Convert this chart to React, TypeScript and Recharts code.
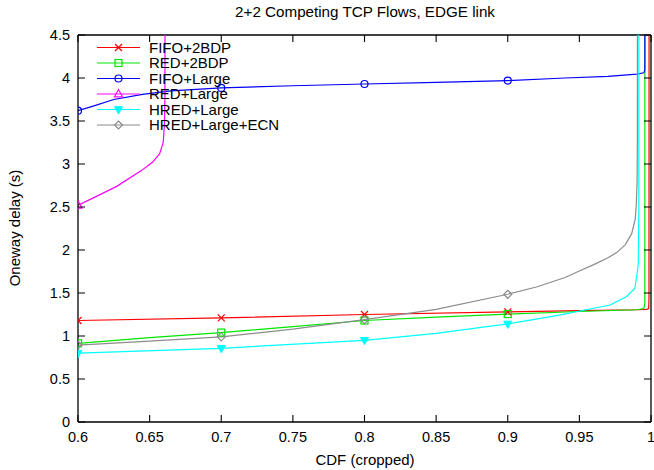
import React from 'react';
import { LineChart, Line, XAxis, YAxis, Legend, ReferenceLine } from 'recharts';

const FONT = '"Liberation Sans", Arial, Helvetica, sans-serif';

const titleText = '2+2 Competing TCP Flows, EDGE link';
const xLabel = 'CDF (cropped)';
const yLabel = 'Oneway delay (s)';

const xTicks = [0.6, 0.65, 0.7, 0.75, 0.8, 0.85, 0.9, 0.95, 1];
const yTicks = [0, 0.5, 1, 1.5, 2, 2.5, 3, 3.5, 4, 4.5];
const xDomain = [0.6, 1];
const yDomain = [0, 4.5];
const markAt = [0.6, 0.7, 0.8, 0.9, 1];

const seriesNames = ['FIFO+2BDP', 'RED+2BDP', 'FIFO+Large', 'RED+Large', 'HRED+Large', 'HRED+Large+ECN'];

const fifo2bdpX = [0.6, 0.7, 0.8, 0.9, 0.95, 0.99, 0.997, 0.9984, 0.9986, 0.9987];
const fifo2bdpY = [1.18, 1.21, 1.25, 1.28, 1.295, 1.305, 1.31, 1.32, 1.45, 8];
const red2bdpX = [0.6, 0.65, 0.7, 0.75, 0.8, 0.85, 0.9, 0.95, 0.99, 0.995, 0.9957, 0.9958];
const red2bdpY = [0.915, 0.98, 1.04, 1.11, 1.18, 1.22, 1.255, 1.285, 1.305, 1.32, 1.38, 8];
const fifoLargeX = [0.6, 0.61, 0.625, 0.645, 0.665, 0.7, 0.75, 0.8, 0.85, 0.9, 0.94, 0.97, 0.99, 0.995, 0.9957, 0.9958];
const fifoLargeY = [3.62, 3.67, 3.75, 3.81, 3.85, 3.885, 3.91, 3.93, 3.95, 3.97, 4.0, 4.02, 4.045, 4.06, 4.09, 8];
const redLargeX = [0.6, 0.61, 0.627, 0.644, 0.652, 0.657, 0.6595, 0.6603, 0.6607, 0.661];
const redLargeY = [2.52, 2.6, 2.74, 2.92, 3.02, 3.12, 3.25, 3.45, 3.8, 8];
const hredLargeX = [0.6, 0.7, 0.8, 0.85, 0.9, 0.935, 0.9714, 0.983, 0.9888, 0.9911, 0.9915, 0.9916];
const hredLargeY = [0.8, 0.857, 0.95, 1.03, 1.14, 1.24, 1.36, 1.46, 1.555, 1.83, 2.5, 8];
const hredEcnX = [0.6, 0.65, 0.7, 0.75, 0.8, 0.85, 0.9, 0.92, 0.94, 0.95, 0.96, 0.97, 0.976, 0.982, 0.9865, 0.989, 0.9898, 0.9903, 0.9905, 0.9906];
const hredEcnY = [0.895, 0.94, 0.99, 1.08, 1.19, 1.31, 1.485, 1.57, 1.68, 1.755, 1.83, 1.91, 1.97, 2.06, 2.19, 2.36, 2.55, 2.8, 3.3, 8];

const zip = (xs: number[], ys: number[]) => xs.map((x, i) => ({ x, y: ys[i] }));

const series = [
  { name: seriesNames[0], color: '#ff0000', shape: 'cross', data: zip(fifo2bdpX, fifo2bdpY) },
  { name: seriesNames[1], color: '#00e600', shape: 'square', data: zip(red2bdpX, red2bdpY) },
  { name: seriesNames[2], color: '#0000ff', shape: 'circle', data: zip(fifoLargeX, fifoLargeY) },
  { name: seriesNames[3], color: '#ff00ff', shape: 'triUp', data: zip(redLargeX, redLargeY) },
  { name: seriesNames[4], color: '#00ffff', shape: 'triDown', data: zip(hredLargeX, hredLargeY) },
  { name: seriesNames[5], color: '#8c8c8c', shape: 'diamond', data: zip(hredEcnX, hredEcnY) },
];

const W = 654;
const H = 470;
const PLOT_TOP = 35;
const PLOT_LEFT = 78;
const PLOT_RIGHT = 651;
const PLOT_BOTTOM = 422;
const TICK_LEN = 7;
const LABEL_SIZE = 14.5;

const Marker = ({ shape, color, x, y }: { shape: string; color: string; x: number; y: number }) => {
  const s = 3.5;
  switch (shape) {
    case 'cross':
      return (
        <g stroke={color} strokeWidth={1.2}>
          <line x1={x - s} y1={y - s} x2={x + s} y2={y + s} />
          <line x1={x - s} y1={y + s} x2={x + s} y2={y - s} />
        </g>
      );
    case 'square':
      return <rect x={x - s} y={y - s} width={2 * s} height={2 * s} fill="none" stroke={color} strokeWidth={1.2} />;
    case 'circle':
      return <circle cx={x} cy={y} r={s} fill="none" stroke={color} strokeWidth={1.2} />;
    case 'triUp':
      return <polygon points={`${x},${y - 4.5} ${x - 4},${y + 2.8} ${x + 4},${y + 2.8}`} fill="none" stroke={color} strokeWidth={1.2} />;
    case 'triDown':
      return <polygon points={`${x},${y + 4.5} ${x - 4},${y - 2.8} ${x + 4},${y - 2.8}`} fill={color} stroke={color} strokeWidth={1} />;
    case 'diamond':
    default:
      return <polygon points={`${x},${y - 4} ${x + 4},${y} ${x},${y + 4} ${x - 4},${y}`} fill="none" stroke={color} strokeWidth={1.2} />;
  }
};

const makeDot = (shape: string, color: string) => (props: any) => {
  const { cx, cy, payload, index } = props;
  const isMark = markAt.some((m) => Math.abs(m - payload.x) < 1e-9) && payload.y <= 4.5;
  if (!isMark) return <g key={`d${index}`} />;
  return (
    <g key={`d${index}`}>
      <Marker shape={shape} color={color} x={cx} y={cy} />
    </g>
  );
};

const fmt = (v: number) => String(v);

const BottomTick = (props: any) => {
  const { x, payload } = props;
  return (
    <g>
      <path d={`M${x},${PLOT_BOTTOM}V${PLOT_BOTTOM - TICK_LEN}M${x},${PLOT_TOP}V${PLOT_TOP + TICK_LEN}`} stroke="#000" strokeWidth={1.1} fill="none" />
      <text x={x} y={PLOT_BOTTOM + 20} textAnchor="middle" fontFamily={FONT} fontSize={LABEL_SIZE} fill="#000">{fmt(payload.value)}</text>
    </g>
  );
};
const LeftTick = (props: any) => {
  const { y, payload } = props;
  return (
    <g>
      <path d={`M${PLOT_LEFT},${y}H${PLOT_LEFT + TICK_LEN}M${PLOT_RIGHT},${y}H${PLOT_RIGHT - TICK_LEN}`} stroke="#000" strokeWidth={1.1} fill="none" />
      <text x={PLOT_LEFT - 8} y={y + 5} textAnchor="end" fontFamily={FONT} fontSize={LABEL_SIZE} fill="#000">{fmt(payload.value)}</text>
    </g>
  );
};

const LegendContent = () => (
  <svg width={W} height={H} style={{ position: 'absolute', left: 0, top: 0 }}>
    <text x={365} y={17} textAnchor="middle" fontFamily={FONT} fontSize={15.2} fill="#000">{titleText}</text>
    <text x={365} y={465} textAnchor="middle" fontFamily={FONT} fontSize={15} fill="#000">{xLabel}</text>
    <text x={0} y={0} transform="translate(20,228) rotate(-90)" textAnchor="middle" fontFamily={FONT} fontSize={15} fill="#000">{yLabel}</text>
    {series.map((s, i) => {
      const cy = 47.5 + i * 15.5;
      return (
        <g key={s.name}>
          <line x1={97} y1={cy} x2={140} y2={cy} stroke={s.color} strokeWidth={1.2} />
          <Marker shape={s.shape} color={s.color} x={118.5} y={cy} />
          <text x={149} y={cy + 5.3} fontFamily={FONT} fontSize={15} fill="#000">{s.name}</text>
        </g>
      );
    })}
  </svg>
);

export default function App() {
  const axisLine = { stroke: '#000', strokeWidth: 1.3 };
  return (
    <div style={{ position: 'absolute', left: 0, top: 0, width: W, height: H, background: '#fff' }}>
      <LineChart width={W} height={H} margin={{ top: PLOT_TOP, right: W - PLOT_RIGHT, bottom: 0, left: 0 }}>
        <XAxis
          xAxisId="b"
          type="number"
          dataKey="x"
          domain={xDomain}
          ticks={xTicks}
          allowDataOverflow
          height={H - PLOT_BOTTOM}
          tickSize={0}
          tickMargin={0}
          tick={BottomTick}
          tickLine={false}
          axisLine={axisLine}
          interval={0}
        />
        <YAxis
          yAxisId="l"
          type="number"
          domain={yDomain}
          ticks={yTicks}
          allowDataOverflow
          width={PLOT_LEFT}
          tickSize={0}
          tickMargin={0}
          tick={LeftTick}
          tickLine={false}
          axisLine={axisLine}
          interval={0}
        />
        <ReferenceLine xAxisId="b" yAxisId="l" y={yDomain[1]} stroke="#000" strokeWidth={1.3} ifOverflow="visible" />
        <ReferenceLine xAxisId="b" yAxisId="l" x={xDomain[1]} stroke="#000" strokeWidth={1.3} ifOverflow="visible" />
        {series.map((s) => (
          <Line
            key={s.name}
            xAxisId="b"
            yAxisId="l"
            data={s.data}
            dataKey="y"
            name={s.name}
            type="linear"
            stroke={s.color}
            strokeWidth={1.2}
            dot={makeDot(s.shape, s.color)}
            activeDot={false}
            isAnimationActive={false}
          />
        ))}
        <Legend
          layout="vertical"
          align="center"
          verticalAlign="middle"
          content={() => <LegendContent />}
          wrapperStyle={{ position: 'absolute', left: 0, top: 0, width: W, height: H, pointerEvents: 'none' }}
        />
      </LineChart>
    </div>
  );
}
